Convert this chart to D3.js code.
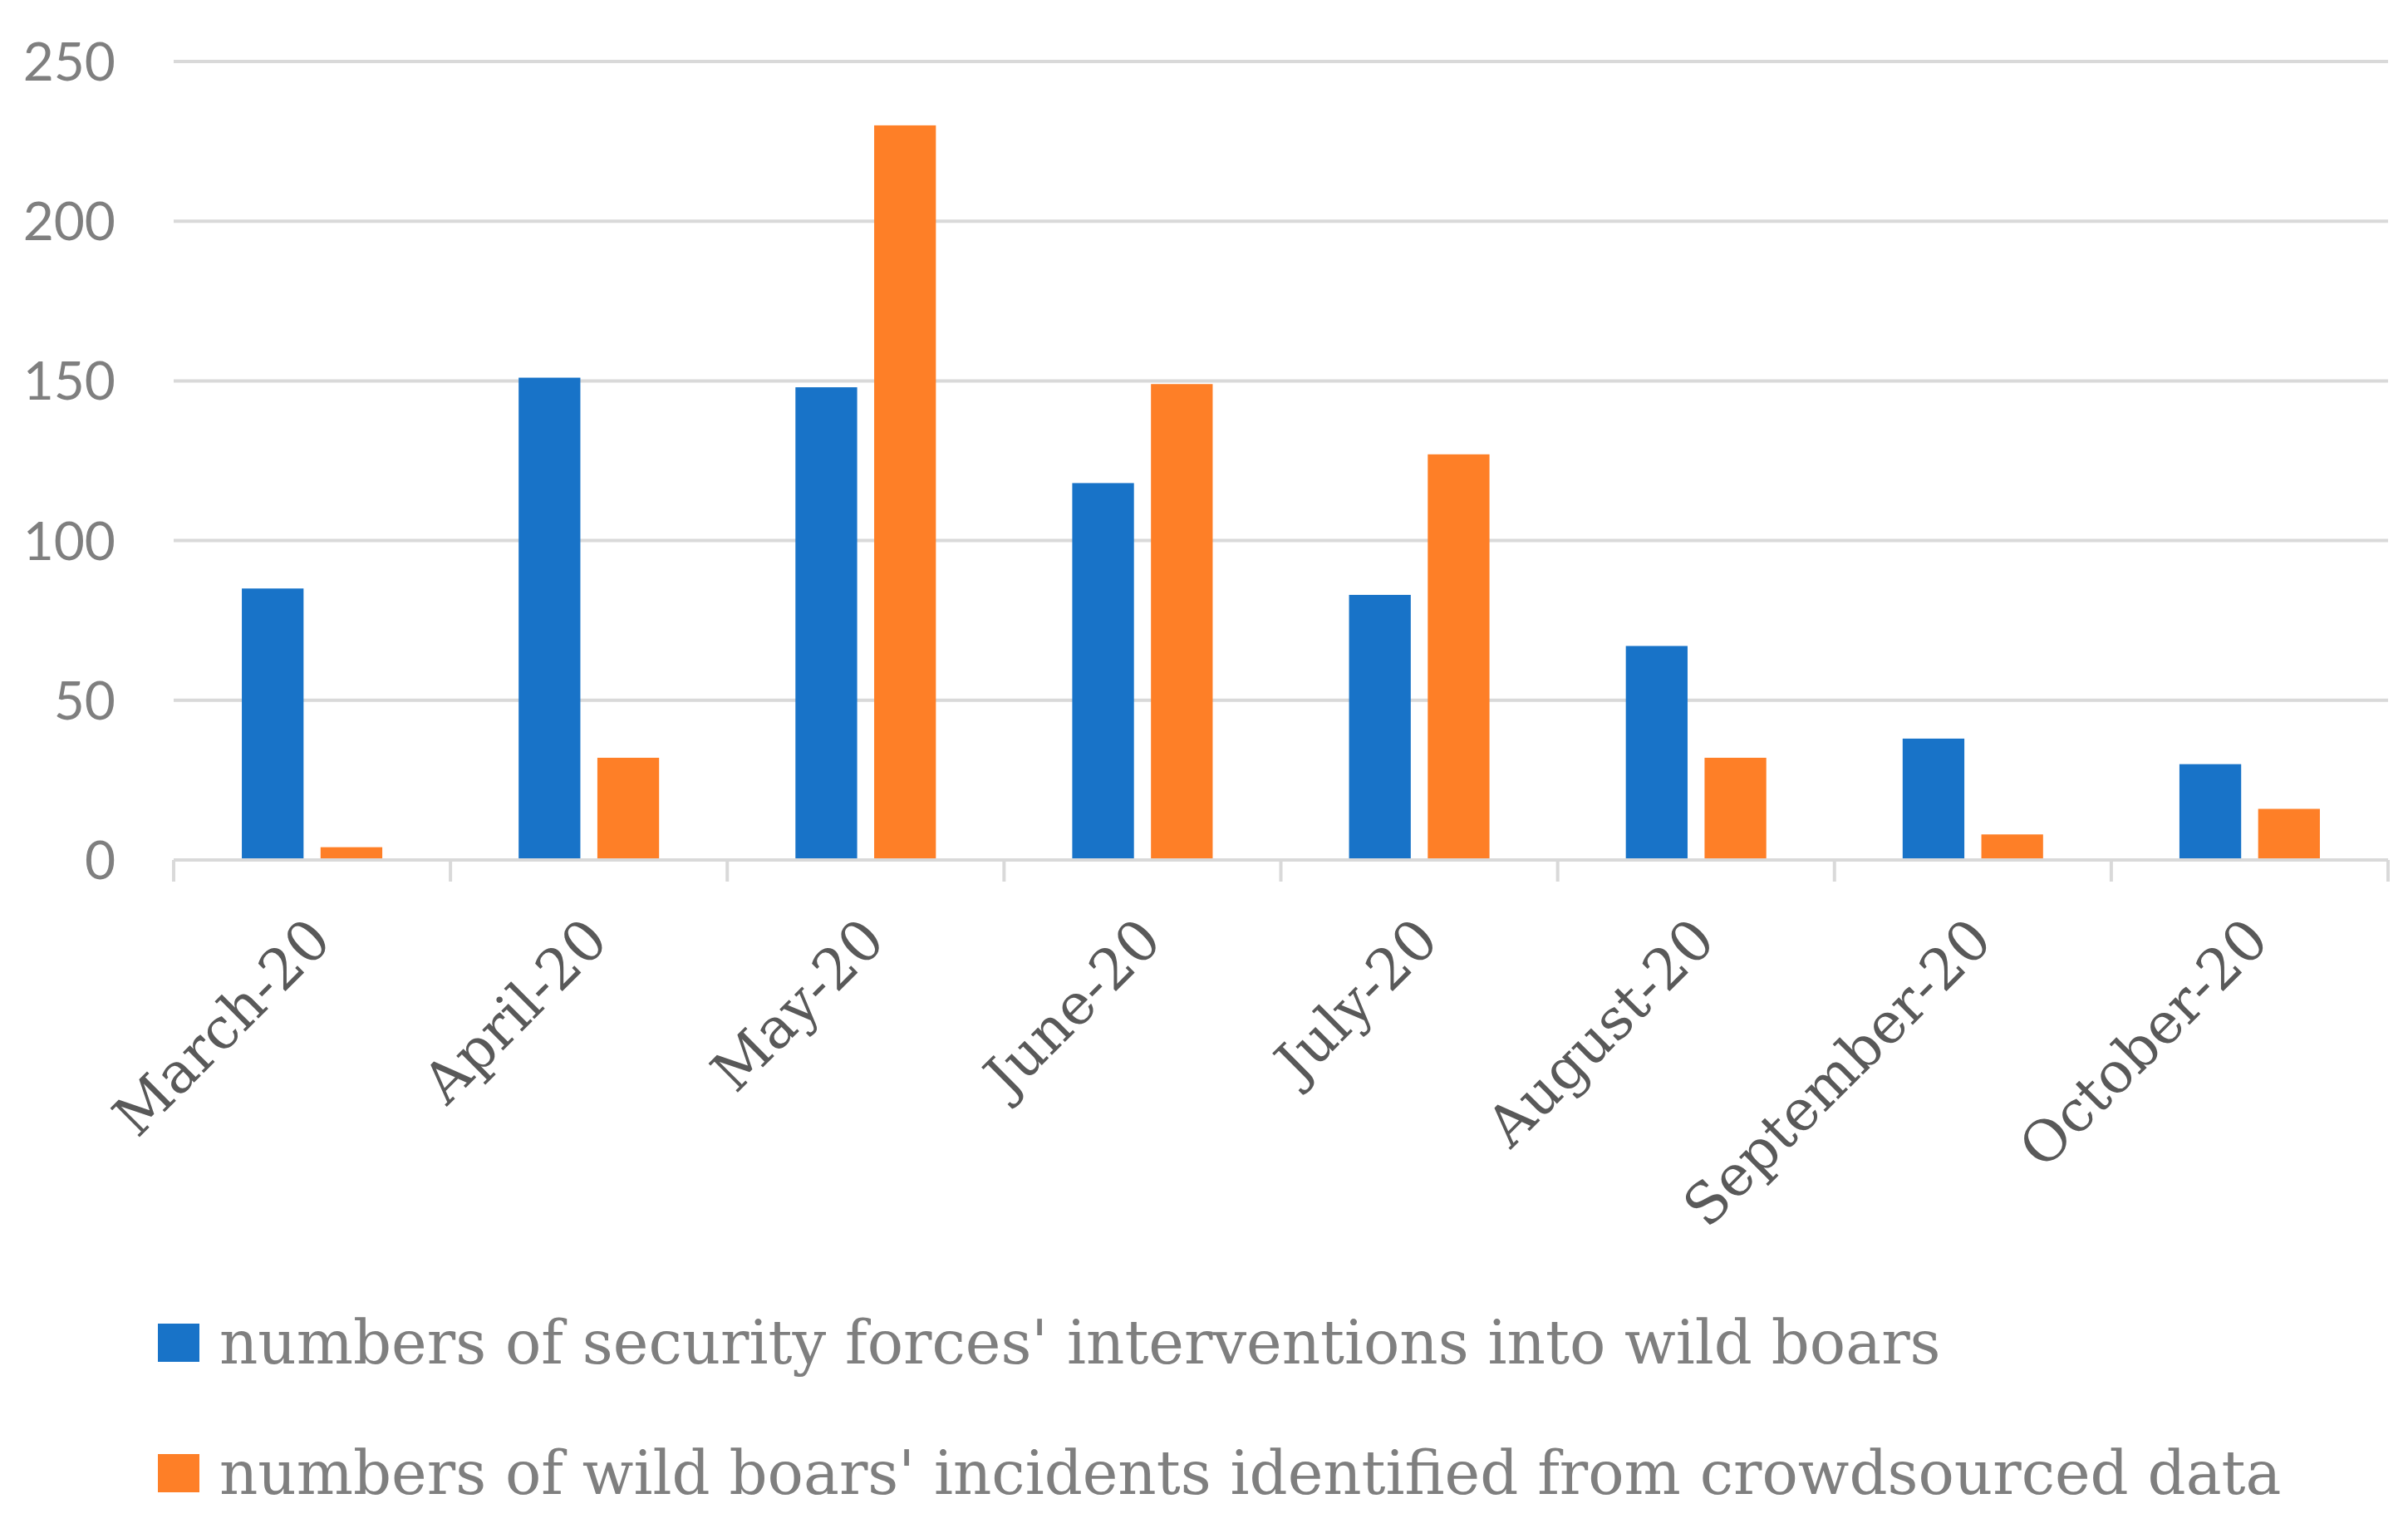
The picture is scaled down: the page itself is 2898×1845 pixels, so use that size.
<!DOCTYPE html>
<html>
<head>
<meta charset="utf-8">
<script src="https://cdn.jsdelivr.net/npm/d3@7"></script>
<style>
  body { margin: 0; background: #fff; }
</style>
</head>
<body>
<svg id="chart"></svg>
<script>
// Data
const months = ['March-20', 'April-20', 'May-20', 'June-20', 'July-20', 'August-20', 'September-20', 'October-20'];
const seriesNames = [
    "numbers of security forces' interventions into wild boars",
    "numbers of wild boars' incidents identified from crowdsourced data"
];
const interventions = [85, 151, 148, 118, 83, 67, 38, 30];
const incidents = [4, 32, 230, 149, 127, 32, 8, 16];
const yTicks = [0, 50, 100, 150, 200, 250];

const colors = ['#1873c8', '#fe7f27'];

const width = 2898, height = 1845;
const margin = {top: 74, right: 24, bottom: 810, left: 209};

const svg = d3.select('#chart')
    .attr('width', width)
    .attr('height', height);

const innerW = width - margin.left - margin.right;
const innerH = height - margin.top - margin.bottom;

const chart = svg.append('g')
    .attr('transform', `translate(${margin.left},${margin.top})`);

// Scales
const x0 = d3.scaleBand().domain(months).range([0, innerW]).padding(0);
const x1 = d3.scaleBand().domain([0, 1]).range([0, x0.bandwidth()])
    .paddingInner(0.216).paddingOuter(0.866);
const y = d3.scaleLinear().domain([0, 250]).range([innerH, 0]);

// Gridlines
chart.selectAll('.grid')
    .data(yTicks.filter(d => d > 0))
    .join('line')
        .attr('class', 'grid')
        .attr('x1', 0).attr('x2', innerW)
        .attr('y1', d => y(d)).attr('y2', d => y(d))
        .attr('stroke', '#d9d9d9')
        .attr('stroke-width', 4);

// Y labels
chart.selectAll('.ylab')
    .data(yTicks)
    .join('text')
        .attr('class', 'ylab')
        .attr('x', -70)
        .attr('y', d => y(d))
        .attr('dy', '0.36em')
        .attr('text-anchor', 'end')
        .attr('fill', '#7f7f7f')
        .style('font-family', 'Lato, sans-serif')
        .style('font-size', '64px')
        .text(d => d);

// Bars
const rows = months.map((m, i) => ({month: m, values: [interventions[i], incidents[i]]}));
const groups = chart.selectAll('.grp')
    .data(rows)
    .join('g')
        .attr('class', 'grp')
        .attr('transform', d => `translate(${x0(d.month)},0)`);

groups.selectAll('rect')
    .data(d => d.values.map((v, k) => ({k, v})))
    .join('rect')
        .attr('x', d => x1(d.k))
        .attr('width', x1.bandwidth())
        .attr('y', d => y(d.v))
        .attr('height', d => innerH - y(d.v))
        .attr('fill', d => colors[d.k]);

// X axis line with category boundary ticks
chart.append('line')
    .attr('x1', 0).attr('x2', innerW)
    .attr('y1', innerH).attr('y2', innerH)
    .attr('stroke', '#d9d9d9')
    .attr('stroke-width', 4);

const boundaries = months.map(m => x0(m)).concat([innerW]);
chart.selectAll('.xtick')
    .data(boundaries)
    .join('line')
        .attr('class', 'xtick')
        .attr('x1', d => d).attr('x2', d => d)
        .attr('y1', innerH).attr('y2', innerH + 26)
        .attr('stroke', '#d9d9d9')
        .attr('stroke-width', 4);

// X labels, rotated
chart.selectAll('.xlab')
    .data(months)
    .join('text')
        .attr('class', 'xlab')
        .attr('transform', d => `translate(${x0(d) + x0.bandwidth() / 2 + 26},${innerH + 100}) rotate(-45)`)
        .attr('text-anchor', 'end')
        .attr('fill', '#595959')
        .style('font-family', '"DejaVu Serif", serif')
        .style('font-size', '68px')
        .text(d => d);

// Legend
const legend = svg.append('g')
    .attr('transform', 'translate(190,0)');

const legendRows = legend.selectAll('.leg')
    .data(seriesNames)
    .join('g')
        .attr('class', 'leg')
        .attr('transform', (d, i) => `translate(0,${1641 + i * 157})`);

legendRows.append('rect')
    .attr('x', 0).attr('y', -48)
    .attr('width', 50).attr('height', 46)
    .attr('fill', (d, i) => colors[i]);

legendRows.append('text')
    .attr('x', 74)
    .attr('y', 0)
    .attr('fill', '#7f7f7f')
    .style('font-family', '"DejaVu Serif", serif')
    .style('font-size', '72px')
    .text(d => d);
</script>
</body>
</html>
